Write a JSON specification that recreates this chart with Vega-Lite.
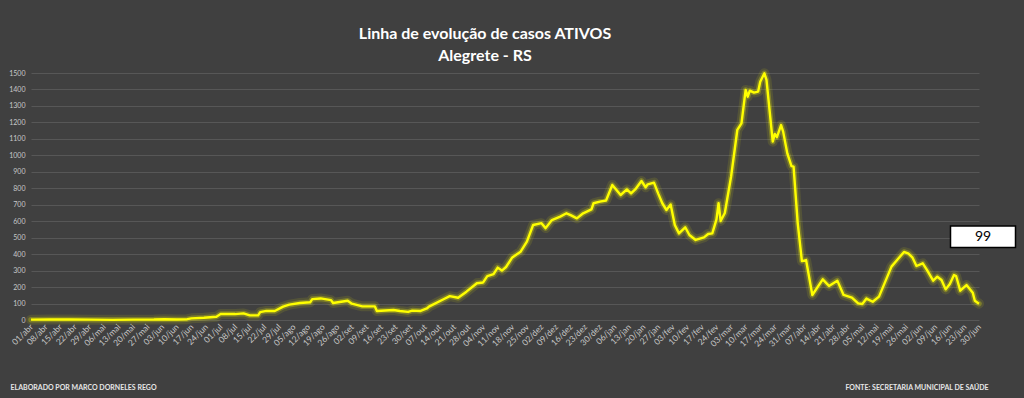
{
  "$schema": "https://vega.github.io/schema/vega-lite/v6.json",
  "width": 948,
  "height": 247,
  "autosize": {"type": "none"},
  "padding": {"left": 31, "top": 73, "right": 45, "bottom": 78},
  "background": "#404040",
  "title": {
    "text": ["Linha de evolução de casos ATIVOS", "Alegrete - RS"],
    "color": "#ffffff",
    "font": "Lato",
    "fontSize": 16,
    "fontWeight": "bold",
    "anchor": "middle",
    "dx": -20,
    "offset": 4,
    "lineHeight": 22
  },
  "config": {
    "view": {"stroke": null},
    "locale": {
      "time": {
        "dateTime": "%A, %e de %B de %Y. %X",
        "date": "%d/%m/%Y",
        "time": "%H:%M:%S",
        "periods": ["AM", "PM"],
        "days": ["domingo", "segunda", "terça", "quarta", "quinta", "sexta", "sábado"],
        "shortDays": ["dom", "seg", "ter", "qua", "qui", "sex", "sáb"],
        "months": ["janeiro", "fevereiro", "março", "abril", "maio", "junho", "julho", "agosto", "setembro", "outubro", "novembro", "dezembro"],
        "shortMonths": ["jan", "fev", "mar", "abr", "mai", "jun", "jul", "ago", "set", "out", "nov", "dez"]
      }
    }
  },
  "data": {
    "format": {"parse": {"date": "date:'%Y-%m-%d'"}},
    "values": [
      {"date": "2020-04-01", "value": 2},
      {"date": "2020-04-10", "value": 3},
      {"date": "2020-04-20", "value": 3},
      {"date": "2020-04-30", "value": 2},
      {"date": "2020-05-10", "value": 1},
      {"date": "2020-05-20", "value": 2},
      {"date": "2020-05-30", "value": 3},
      {"date": "2020-06-04", "value": 5},
      {"date": "2020-06-10", "value": 3},
      {"date": "2020-06-15", "value": 5},
      {"date": "2020-06-17", "value": 10},
      {"date": "2020-06-23", "value": 14},
      {"date": "2020-06-29", "value": 20},
      {"date": "2020-07-01", "value": 36},
      {"date": "2020-07-08", "value": 36},
      {"date": "2020-07-12", "value": 40},
      {"date": "2020-07-15", "value": 28},
      {"date": "2020-07-19", "value": 28},
      {"date": "2020-07-20", "value": 48},
      {"date": "2020-07-23", "value": 55},
      {"date": "2020-07-27", "value": 55},
      {"date": "2020-07-31", "value": 81},
      {"date": "2020-08-03", "value": 93},
      {"date": "2020-08-08", "value": 103},
      {"date": "2020-08-13", "value": 108},
      {"date": "2020-08-14", "value": 127},
      {"date": "2020-08-18", "value": 131},
      {"date": "2020-08-23", "value": 121},
      {"date": "2020-08-24", "value": 103},
      {"date": "2020-08-31", "value": 117},
      {"date": "2020-09-02", "value": 99},
      {"date": "2020-09-07", "value": 83},
      {"date": "2020-09-13", "value": 83},
      {"date": "2020-09-14", "value": 55},
      {"date": "2020-09-22", "value": 61},
      {"date": "2020-09-25", "value": 55},
      {"date": "2020-09-29", "value": 49},
      {"date": "2020-10-01", "value": 57},
      {"date": "2020-10-05", "value": 55},
      {"date": "2020-10-08", "value": 70},
      {"date": "2020-10-09", "value": 81},
      {"date": "2020-10-16", "value": 126},
      {"date": "2020-10-19", "value": 145},
      {"date": "2020-10-23", "value": 135},
      {"date": "2020-10-27", "value": 172},
      {"date": "2020-11-01", "value": 223},
      {"date": "2020-11-04", "value": 228},
      {"date": "2020-11-06", "value": 267},
      {"date": "2020-11-09", "value": 279},
      {"date": "2020-11-11", "value": 318},
      {"date": "2020-11-13", "value": 300},
      {"date": "2020-11-15", "value": 322},
      {"date": "2020-11-18", "value": 380},
      {"date": "2020-11-22", "value": 415},
      {"date": "2020-11-25", "value": 476},
      {"date": "2020-11-28", "value": 577},
      {"date": "2020-12-02", "value": 588},
      {"date": "2020-12-04", "value": 558},
      {"date": "2020-12-07", "value": 607},
      {"date": "2020-12-11", "value": 628},
      {"date": "2020-12-14", "value": 648},
      {"date": "2020-12-16", "value": 637},
      {"date": "2020-12-19", "value": 617},
      {"date": "2020-12-22", "value": 648},
      {"date": "2020-12-26", "value": 672},
      {"date": "2020-12-27", "value": 709},
      {"date": "2020-12-30", "value": 719},
      {"date": "2021-01-02", "value": 726},
      {"date": "2021-01-05", "value": 820},
      {"date": "2021-01-09", "value": 759},
      {"date": "2021-01-12", "value": 793},
      {"date": "2021-01-14", "value": 769},
      {"date": "2021-01-16", "value": 793},
      {"date": "2021-01-19", "value": 844},
      {"date": "2021-01-21", "value": 806},
      {"date": "2021-01-22", "value": 824},
      {"date": "2021-01-25", "value": 834},
      {"date": "2021-01-27", "value": 769},
      {"date": "2021-01-29", "value": 709},
      {"date": "2021-01-31", "value": 668},
      {"date": "2021-02-02", "value": 702},
      {"date": "2021-02-04", "value": 577},
      {"date": "2021-02-06", "value": 526},
      {"date": "2021-02-09", "value": 563},
      {"date": "2021-02-11", "value": 516},
      {"date": "2021-02-14", "value": 486},
      {"date": "2021-02-18", "value": 502},
      {"date": "2021-02-20", "value": 522},
      {"date": "2021-02-22", "value": 526},
      {"date": "2021-02-24", "value": 611},
      {"date": "2021-02-25", "value": 709},
      {"date": "2021-02-26", "value": 601},
      {"date": "2021-02-28", "value": 650},
      {"date": "2021-03-03", "value": 870},
      {"date": "2021-03-06", "value": 1154},
      {"date": "2021-03-08", "value": 1194},
      {"date": "2021-03-10", "value": 1397},
      {"date": "2021-03-11", "value": 1356},
      {"date": "2021-03-12", "value": 1393},
      {"date": "2021-03-14", "value": 1381},
      {"date": "2021-03-16", "value": 1387},
      {"date": "2021-03-17", "value": 1447},
      {"date": "2021-03-19", "value": 1498},
      {"date": "2021-03-20", "value": 1458},
      {"date": "2021-03-23", "value": 1083},
      {"date": "2021-03-24", "value": 1130},
      {"date": "2021-03-25", "value": 1110},
      {"date": "2021-03-27", "value": 1184},
      {"date": "2021-03-28", "value": 1144},
      {"date": "2021-03-30", "value": 1012},
      {"date": "2021-04-01", "value": 935},
      {"date": "2021-04-02", "value": 931},
      {"date": "2021-04-04", "value": 587},
      {"date": "2021-04-06", "value": 358},
      {"date": "2021-04-08", "value": 364},
      {"date": "2021-04-11", "value": 152},
      {"date": "2021-04-16", "value": 247},
      {"date": "2021-04-19", "value": 207},
      {"date": "2021-04-23", "value": 239},
      {"date": "2021-04-26", "value": 152},
      {"date": "2021-04-30", "value": 136},
      {"date": "2021-05-03", "value": 101},
      {"date": "2021-05-05", "value": 97},
      {"date": "2021-05-07", "value": 130},
      {"date": "2021-05-10", "value": 111},
      {"date": "2021-05-13", "value": 142},
      {"date": "2021-05-16", "value": 233},
      {"date": "2021-05-19", "value": 324},
      {"date": "2021-05-22", "value": 369},
      {"date": "2021-05-25", "value": 413},
      {"date": "2021-05-27", "value": 405},
      {"date": "2021-05-29", "value": 381},
      {"date": "2021-05-31", "value": 328},
      {"date": "2021-06-03", "value": 344},
      {"date": "2021-06-05", "value": 304},
      {"date": "2021-06-08", "value": 239},
      {"date": "2021-06-10", "value": 263},
      {"date": "2021-06-12", "value": 243},
      {"date": "2021-06-14", "value": 186},
      {"date": "2021-06-16", "value": 219},
      {"date": "2021-06-18", "value": 273},
      {"date": "2021-06-19", "value": 267},
      {"date": "2021-06-21", "value": 178},
      {"date": "2021-06-24", "value": 212},
      {"date": "2021-06-27", "value": 166},
      {"date": "2021-06-28", "value": 117},
      {"date": "2021-06-30", "value": 99}
    ]
  },
  "encoding": {
    "x": {
      "field": "date",
      "type": "temporal",
      "scale": {"domain": [{"year": 2020, "month": 4, "date": 1}, {"year": 2021, "month": 6, "date": 30}]},
      "axis": {
        "values": [
          {"year": 2020, "month": 4, "date": 1}, {"year": 2020, "month": 4, "date": 8}, {"year": 2020, "month": 4, "date": 15}, {"year": 2020, "month": 4, "date": 22}, {"year": 2020, "month": 4, "date": 29},
          {"year": 2020, "month": 5, "date": 6}, {"year": 2020, "month": 5, "date": 13}, {"year": 2020, "month": 5, "date": 20}, {"year": 2020, "month": 5, "date": 27},
          {"year": 2020, "month": 6, "date": 3}, {"year": 2020, "month": 6, "date": 10}, {"year": 2020, "month": 6, "date": 17}, {"year": 2020, "month": 6, "date": 24},
          {"year": 2020, "month": 7, "date": 1}, {"year": 2020, "month": 7, "date": 8}, {"year": 2020, "month": 7, "date": 15}, {"year": 2020, "month": 7, "date": 22}, {"year": 2020, "month": 7, "date": 29},
          {"year": 2020, "month": 8, "date": 5}, {"year": 2020, "month": 8, "date": 12}, {"year": 2020, "month": 8, "date": 19}, {"year": 2020, "month": 8, "date": 26},
          {"year": 2020, "month": 9, "date": 2}, {"year": 2020, "month": 9, "date": 9}, {"year": 2020, "month": 9, "date": 16}, {"year": 2020, "month": 9, "date": 23}, {"year": 2020, "month": 9, "date": 30},
          {"year": 2020, "month": 10, "date": 7}, {"year": 2020, "month": 10, "date": 14}, {"year": 2020, "month": 10, "date": 21}, {"year": 2020, "month": 10, "date": 28},
          {"year": 2020, "month": 11, "date": 4}, {"year": 2020, "month": 11, "date": 11}, {"year": 2020, "month": 11, "date": 18}, {"year": 2020, "month": 11, "date": 25},
          {"year": 2020, "month": 12, "date": 2}, {"year": 2020, "month": 12, "date": 9}, {"year": 2020, "month": 12, "date": 16}, {"year": 2020, "month": 12, "date": 23}, {"year": 2020, "month": 12, "date": 30},
          {"year": 2021, "month": 1, "date": 6}, {"year": 2021, "month": 1, "date": 13}, {"year": 2021, "month": 1, "date": 20}, {"year": 2021, "month": 1, "date": 27},
          {"year": 2021, "month": 2, "date": 3}, {"year": 2021, "month": 2, "date": 10}, {"year": 2021, "month": 2, "date": 17}, {"year": 2021, "month": 2, "date": 24},
          {"year": 2021, "month": 3, "date": 3}, {"year": 2021, "month": 3, "date": 10}, {"year": 2021, "month": 3, "date": 17}, {"year": 2021, "month": 3, "date": 24}, {"year": 2021, "month": 3, "date": 31},
          {"year": 2021, "month": 4, "date": 7}, {"year": 2021, "month": 4, "date": 14}, {"year": 2021, "month": 4, "date": 21}, {"year": 2021, "month": 4, "date": 28},
          {"year": 2021, "month": 5, "date": 5}, {"year": 2021, "month": 5, "date": 12}, {"year": 2021, "month": 5, "date": 19}, {"year": 2021, "month": 5, "date": 26},
          {"year": 2021, "month": 6, "date": 2}, {"year": 2021, "month": 6, "date": 9}, {"year": 2021, "month": 6, "date": 16}, {"year": 2021, "month": 6, "date": 23}, {"year": 2021, "month": 6, "date": 30}
        ],
        "format": "%d/%b",
        "labelAngle": -45,
        "labelAlign": "right",
        "labelBaseline": "middle",
        "labelFont": "Lato",
        "labelFontSize": 8.5,
        "labelColor": "#c8c8c8",
        "labelPadding": 5,
        "labelOverlap": false,
        "labelBound": false,
        "labelFlush": false,
        "grid": false,
        "ticks": false,
        "domain": false,
        "title": "FONTE: SECRETARIA MUNICIPAL DE SAÚDE",
        "titleFont": "Lato",
        "titleFontSize": 7,
        "titleFontWeight": "bold",
        "titleColor": "#e6e6e6",
        "titleAlign": "right",
        "titleAnchor": "end",
        "titleBaseline": "alphabetic",
        "titleX": 957,
        "titleY": 69
      }
    },
    "y": {
      "field": "value",
      "type": "quantitative",
      "scale": {"domain": [0, 1500], "nice": false},
      "axis": {
        "values": [0, 100, 200, 300, 400, 500, 600, 700, 800, 900, 1000, 1100, 1200, 1300, 1400, 1500],
        "format": "d",
        "labelFont": "Lato",
        "labelFontSize": 7,
        "labelColor": "#c8c8c8",
        "labelPadding": 6,
        "grid": true,
        "gridColor": "#575757",
        "gridWidth": 1,
        "ticks": false,
        "domain": false,
        "title": "ELABORADO POR MARCO DORNELES REGO",
        "titleFont": "Lato",
        "titleFontSize": 7,
        "titleFontWeight": "bold",
        "titleColor": "#e6e6e6",
        "titleAngle": 0,
        "titleAlign": "left",
        "titleBaseline": "alphabetic",
        "titleX": -21,
        "titleY": 316
      }
    }
  },
  "layer": [
    {"mark": {"type": "line", "color": "#ffff00", "strokeWidth": 10, "opacity": 0.1, "strokeJoin": "round", "strokeCap": "round"}},
    {"mark": {"type": "line", "color": "#ffff00", "strokeWidth": 5.5, "opacity": 0.25, "strokeJoin": "round", "strokeCap": "round"}},
    {"mark": {"type": "line", "color": "#ffff00", "strokeWidth": 2.4, "strokeJoin": "round"}},
    {
      "transform": [
        {"joinaggregate": [{"op": "max", "field": "date", "as": "lastDate"}]},
        {"filter": "time(datum.date) == time(datum.lastDate)"}
      ],
      "layer": [
        {"mark": {"type": "point", "shape": "M-1,-0.332H1V0.332H-1Z", "size": 4225, "filled": true, "fill": "#ffffff", "stroke": "#000000", "strokeWidth": 1.5, "opacity": 1, "xOffset": 4, "yOffset": -67}},
        {"mark": {"type": "text", "font": "Lato", "fontSize": 14, "color": "#000000", "dx": 4, "dy": -67, "align": "center", "baseline": "middle"}, "encoding": {"text": {"field": "value", "type": "quantitative"}}}
      ]
    }
  ]
}
